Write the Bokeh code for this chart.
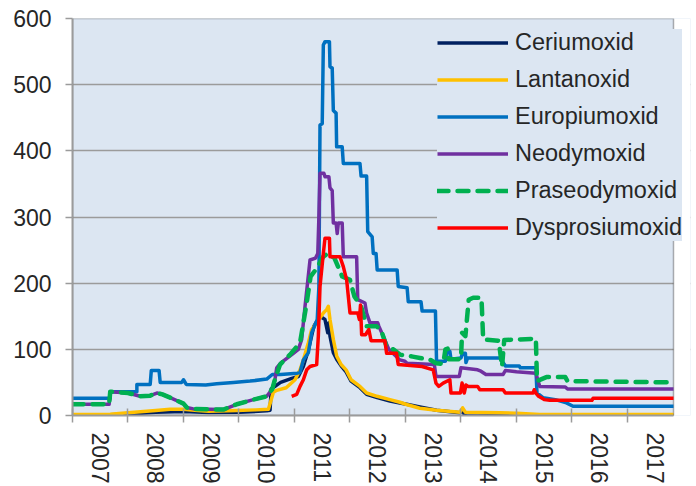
from bokeh.plotting import figure
from bokeh.models import FixedTicker, Legend, LegendItem, Range1d, BoxAnnotation
from bokeh.embed import file_html
from bokeh.resources import INLINE

# ---------------- data (decimal years, price index) ----------------
years = [2007, 2008, 2009, 2010, 2011, 2012, 2013, 2014, 2015, 2016, 2017]
year_labels = ["2007", "2008", "2009", "2010", "2011", "2012", "2013", "2014", "2015", "2016", "2017"]
y_ticks = [0, 100, 200, 300, 400, 500, 600]
x_start, x_end = 2007.0, 2017.83

ce_x = [2007.00, 2007.68, 2008.0, 2008.5, 2009.0, 2009.45, 2010.0, 2010.5, 2010.56, 2010.58, 2010.75, 2010.95,
        2011.07, 2011.16, 2011.25, 2011.35, 2011.46, 2011.55, 2011.60, 2011.62, 2011.64, 2011.70, 2011.76,
        2011.84, 2011.93, 2012.02, 2012.18, 2012.30, 2012.49, 2012.72, 2012.9, 2013.02, 2013.26, 2013.56,
        2013.98, 2014.03, 2014.06, 2014.09, 2014.70, 2015.0, 2015.42, 2017.83]
ce_y = [0.5, 1, 2, 5, 6, 4.5, 5, 7, 8, 40, 50, 56,
        59, 74, 99, 135, 150, 145, 125, 140, 120, 95, 85,
        75, 66, 52, 42, 32, 27, 22, 19, 17, 13, 8,
        4, 9, 1, 4, 3, 2, 0.5, 0.5]

la_x = [2007.00, 2007.68, 2008.0, 2008.5, 2008.76, 2009.0, 2009.2, 2009.45, 2009.96, 2010.3, 2010.53, 2010.62,
        2010.68, 2010.85, 2011.01, 2011.1, 2011.16, 2011.25, 2011.31, 2011.40, 2011.52, 2011.58, 2011.61,
        2011.64, 2011.70, 2011.76, 2011.84, 2011.93, 2012.02, 2012.18, 2012.30, 2012.49, 2012.72, 2012.9,
        2013.02, 2013.26, 2013.56, 2013.98, 2014.03, 2014.08, 2014.70, 2015.0, 2015.42, 2017.83]
la_y = [1.5, 2, 4, 7.5, 9.6, 9.6, 8, 6.5, 7.5, 8.5, 9.6, 35,
        38, 42, 54, 69, 84, 110, 130, 140, 155, 160, 165,
        145, 115, 90, 77, 69, 54, 44, 34, 29, 24, 20,
        16.6, 11, 8, 5, 11.6, 5, 4, 3.5, 1.5, 1.5]

eu_x = [2007.00, 2007.68, 2007.68, 2008.16, 2008.16, 2008.40, 2008.42, 2008.56, 2008.58, 2008.97, 2009.0,
        2009.05, 2009.4, 2009.6, 2009.9, 2010.2, 2010.5, 2010.6, 2010.75, 2011.05, 2011.1, 2011.16, 2011.25,
        2011.31, 2011.41, 2011.44, 2011.46, 2011.50, 2011.52, 2011.55, 2011.63, 2011.64, 2011.68, 2011.70,
        2011.75, 2011.76, 2011.86, 2011.88, 2012.18, 2012.20, 2012.30, 2012.32, 2012.40, 2012.42, 2012.47,
        2012.49, 2012.85, 2012.87, 2013.03, 2013.05, 2013.28, 2013.30, 2013.54, 2013.56, 2013.72, 2013.75,
        2013.8, 2013.82, 2014.0, 2014.03, 2014.08, 2014.09, 2014.12, 2014.70, 2014.80, 2015.05, 2015.07,
        2015.35, 2015.37, 2015.48, 2015.7, 2015.9, 2016.02, 2017.83]
eu_y = [26, 26, 36, 36, 47, 47, 68, 68, 50, 50, 54,
        47, 46, 48, 50, 52, 55, 62, 62, 64, 65, 84, 95,
        125, 145, 195, 439, 441, 560, 565, 565, 527, 525, 461,
        457, 406, 406, 381, 381, 362, 362, 278, 270, 245, 245,
        220, 220, 195, 193, 172, 172, 158, 158, 82, 82, 97,
        97, 85, 87, 94, 94, 80, 87, 87, 75, 75, 72,
        72, 34, 27, 24, 19, 14, 14]

nd_x = [2007.00, 2007.66, 2007.68, 2008.0, 2008.22, 2008.40, 2008.52, 2008.62, 2008.76, 2009.0, 2009.06,
        2009.18, 2009.72, 2009.96, 2010.26, 2010.5, 2010.6, 2010.65, 2010.68, 2010.75, 2010.98, 2011.07,
        2011.13, 2011.19, 2011.28, 2011.38, 2011.42, 2011.44, 2011.46, 2011.53, 2011.55, 2011.62, 2011.64,
        2011.68, 2011.70, 2011.75, 2011.77, 2011.79, 2011.86, 2011.88, 2012.12, 2012.14, 2012.27, 2012.30,
        2012.36, 2012.50, 2012.52, 2012.6, 2012.7, 2012.9, 2012.99, 2013.03, 2013.52, 2013.55, 2013.97,
        2014.0, 2014.3, 2014.36, 2014.45, 2014.76, 2014.8, 2015.0, 2015.35, 2015.42, 2015.88, 2015.92, 2017.83]
nd_y = [17, 17, 36, 34, 29, 30, 34, 32, 27, 18, 12,
        10, 9, 17, 24, 29, 40, 55, 72, 79, 94, 100,
        115, 165, 235, 238, 245, 300, 366, 366, 361, 361, 344,
        340, 291, 291, 275, 291, 291, 240, 240, 175, 170, 155,
        140, 140, 135, 120, 100, 84, 82, 79, 77, 59, 59,
        72, 69, 67, 62, 62, 68, 66, 64, 44, 43, 40, 40]

pr_x = [2007.00, 2007.66, 2007.68, 2008.0, 2008.22, 2008.40, 2008.52, 2008.62, 2008.76, 2009.0, 2009.06,
        2009.18, 2009.72, 2009.96, 2010.26, 2010.5, 2010.6, 2010.65, 2010.74, 2010.92, 2011.1, 2011.22,
        2011.29, 2011.38, 2011.52, 2011.6, 2011.72, 2011.86, 2012.0, 2012.08, 2012.20, 2012.30, 2012.48,
        2012.57, 2012.66, 2012.78, 2012.9, 2013.13, 2013.26, 2013.45, 2013.55, 2013.68, 2013.72, 2013.76,
        2013.78, 2014.0, 2014.02, 2014.08, 2014.14, 2014.22, 2014.37, 2014.40, 2014.68, 2014.74, 2014.78,
        2015.35, 2015.37, 2015.54, 2015.88, 2015.92, 2017.83]
pr_y = [17, 17, 36, 34, 29, 30, 34, 32, 27, 18, 12,
        10, 9, 17, 24, 29, 40, 55, 77, 92, 110, 170,
        210, 220, 240, 245, 238, 210, 205, 180, 165, 135, 135,
        127, 104, 100, 92, 89, 87, 84, 79, 78, 100, 101,
        85, 85, 125, 120, 175, 178, 178, 115, 113, 74, 114,
        116, 52, 58, 58, 52, 50]

dy_x = [2010.95, 2011.04, 2011.10, 2011.16, 2011.22, 2011.28, 2011.40, 2011.43, 2011.46, 2011.52, 2011.55,
        2011.63, 2011.64, 2011.82, 2011.88, 2011.94, 2012.00, 2012.14, 2012.17, 2012.19, 2012.21, 2012.28,
        2012.34, 2012.38, 2012.63, 2012.66, 2012.84, 2012.87, 2013.30, 2013.50, 2013.55, 2013.60, 2013.68,
        2013.80, 2013.82, 2013.99, 2014.02, 2014.06, 2014.09, 2014.13, 2014.30, 2014.34, 2014.76, 2014.80,
        2015.30, 2015.32, 2015.35, 2015.40, 2015.50, 2015.60, 2016.36, 2016.38, 2017.83]
dy_y = [29, 32, 44, 54, 69, 74, 77, 120, 195, 245, 268,
        268, 240, 240, 225, 205, 155, 155, 145, 167, 122, 122,
        130, 113, 113, 94, 94, 77, 74, 69, 49, 44, 49,
        54, 34, 34, 49, 34, 46, 44, 44, 39, 39, 34,
        34, 39, 34, 29, 24, 23, 23, 26, 26]

series = [
    ("Ceriumoxid", ce_x, ce_y, "#002060", None),
    ("Lantanoxid", la_x, la_y, "#FFC000", None),
    ("Europiumoxid", eu_x, eu_y, "#0070C0", None),
    ("Neodymoxid", nd_x, nd_y, "#7030A0", None),
    ("Praseodymoxid", pr_x, pr_y, "#00B050", "11 9"),
    ("Dysprosiumoxid", dy_x, dy_y, "#FF0000", None),
]

FONT = "Liberation Sans"
TXT = "#262626"
GRAY = "#9b9b9b"
BG = "#DCE6F2"

# frame spans 72..690 px; the chart area ends at x_end (673 px), the rest
# leaves room for the legend that overhangs the right border
frame_right_val = x_start + (x_end - x_start) * 618.0 / 601.0

p = figure(width=696, height=486, output_backend="svg", toolbar_location=None,
           x_range=Range1d(x_start, frame_right_val), y_range=Range1d(0, 600),
           min_border_left=72, min_border_top=18, min_border_right=6, min_border_bottom=70)
p.background_fill_color = BG
p.border_fill_color = "white"
p.outline_line_color = None

# x axis: labels centred in each year, tick marks at year boundaries
xa = p.xaxis[0]
xa.bounds = (x_start, x_end)
xa.ticker = FixedTicker(ticks=[y + 0.5 for y in years], minor_ticks=years)
xa.major_label_overrides = {y + 0.5: lab for y, lab in zip(years, year_labels)}
xa.major_label_orientation = -1.5707963
xa.major_tick_in = 0
xa.major_tick_out = 0
xa.minor_tick_in = 7
xa.minor_tick_out = 7
xa.minor_tick_line_color = GRAY
xa.minor_tick_line_width = 1.5
xa.axis_line_color = GRAY
xa.axis_line_width = 2
xa.major_label_standoff = 10
xa.major_label_text_font = FONT
xa.major_label_text_font_size = "23px"
xa.major_label_text_color = TXT

ya = p.yaxis[0]
ya.ticker = FixedTicker(ticks=y_ticks)
ya.major_tick_in = 0
ya.major_tick_out = 7
ya.major_tick_line_color = GRAY
ya.major_tick_line_width = 1.5
ya.minor_tick_line_color = None
ya.axis_line_color = GRAY
ya.axis_line_width = 2
ya.major_label_standoff = 14
ya.major_label_text_font = FONT
ya.major_label_text_font_size = "23px"
ya.major_label_text_color = TXT

p.xgrid.grid_line_color = None
p.ygrid.ticker = FixedTicker(ticks=y_ticks)
p.ygrid.grid_line_color = GRAY
p.ygrid.grid_line_width = 1.5

# white area right of the chart, and the black chart border
p.add_layout(BoxAnnotation(left=x_end, fill_color="white", fill_alpha=1.0,
                           line_color=None, level="underlay"))
p.add_layout(BoxAnnotation(left=x_start, right=x_end, bottom=0, top=600,
                           fill_alpha=0, line_color="black", line_width=1.5,
                           level="underlay"))

items = []
for name, xs, ys, col, dash in series:
    if dash:
        r = p.line(xs, ys, line_color=col, line_width=4.5, line_dash=dash,
                   line_cap="round", line_join="round")
    else:
        r = p.line(xs, ys, line_color=col, line_width=3.5, line_join="round")
    items.append(LegendItem(label=name, renderers=[r]))

legend = Legend(items=items, location=(365, 174), padding=5, margin=0,
                spacing=10, glyph_width=71, glyph_height=27, label_height=27,
                label_standoff=7, label_text_font=FONT, label_text_font_size="23.5px",
                label_text_color=TXT, background_fill_color=BG,
                background_fill_alpha=1.0, border_line_color=None)
p.add_layout(legend, "center")

open("out.html", "w").write(file_html(p, INLINE))
